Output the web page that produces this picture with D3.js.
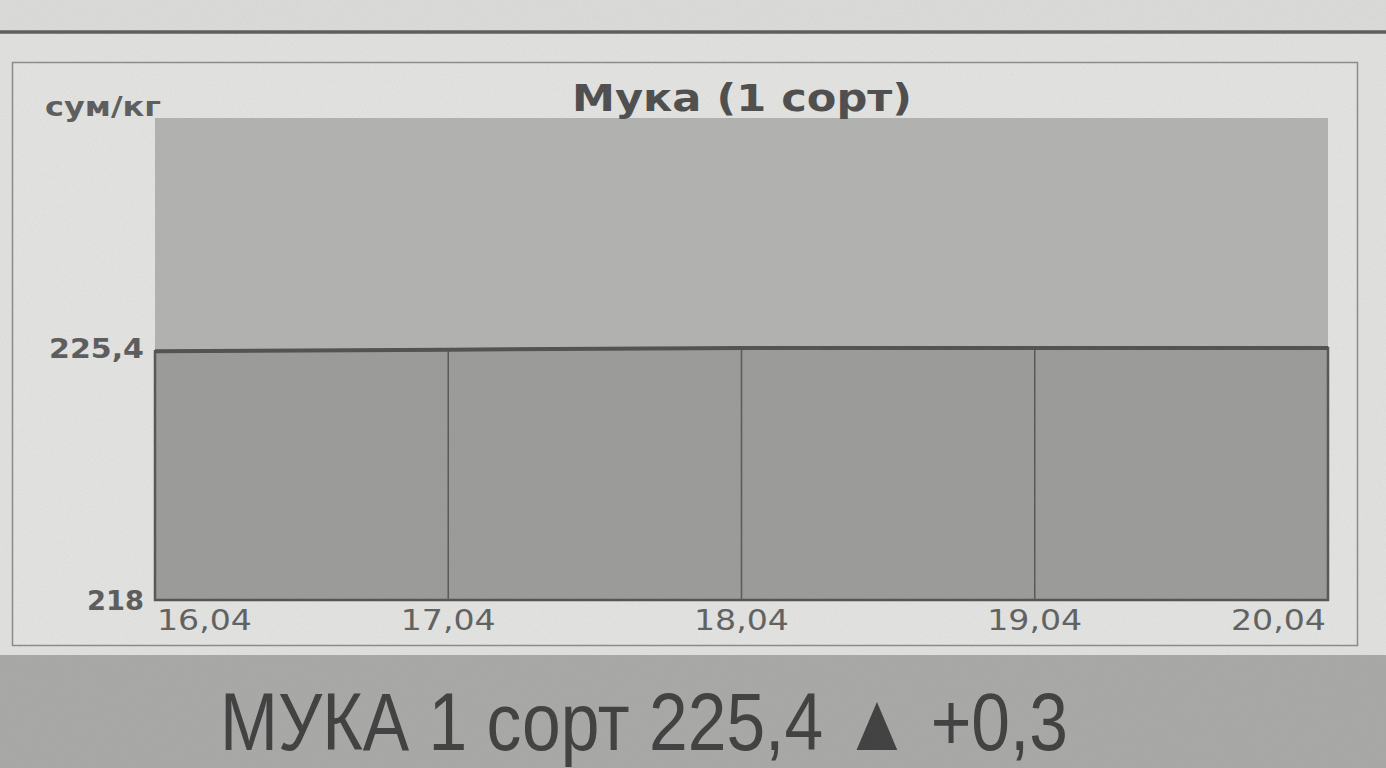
<!DOCTYPE html>
<meta charset="utf-8">
<script src="https://d3js.org/d3.v7.min.js"></script>
<style>
  body { margin: 0; background: #e3e3e1; }
  svg { display: block; }
</style>
<body>
<div id="chart"></div>
<script>
// data
var dates = ["16,04", "17,04", "18,04", "19,04", "20,04"];
var prices = [225.3, 225.35, 225.4, 225.4, 225.4];
var yDomain = [218, 232.15];
var yTicks = [218, 225.4];
var titleText = "Мука (1 сорт)";
var unitText = "сум/кг";
var bannerText = "МУКА 1 сорт 225,4 \u25B2 +0,3";

var W = 1386, H = 768;
var plot = {left: 155, right: 1328, top: 118, bottom: 600};
var wideFont = "DejaVu Sans, Verdana, sans-serif";

var svg = d3.select("#chart").append("svg")
    .attr("width", W)
    .attr("height", H);

// grainy newsprint filter
var defs = svg.append("defs");
var f = defs.append("filter").attr("id", "grain").attr("x", 0).attr("y", 0).attr("width", "100%").attr("height", "100%");
f.append("feTurbulence").attr("type", "fractalNoise").attr("baseFrequency", 0.9).attr("numOctaves", 2).attr("seed", 4);
f.append("feColorMatrix").attr("type", "matrix")
  .attr("values", "0 0 0 0 0.3  0 0 0 0 0.3  0 0 0 0 0.3  0 0 0 0.15 0");

// page background
svg.append("rect").attr("width", W).attr("height", H).attr("fill", "#e4e4e2");
svg.append("rect").attr("width", W).attr("height", 30).attr("fill", "#dededc");
svg.append("line")
    .attr("x1", 0).attr("x2", W).attr("y1", 32).attr("y2", 32)
    .attr("stroke", "#5a5a5a").attr("stroke-width", 3.5);

// chart frame
svg.append("rect")
    .attr("x", 12.5).attr("y", 62.5).attr("width", 1345).attr("height", 583)
    .attr("fill", "#e6e6e4").attr("stroke", "#8a8a8a").attr("stroke-width", 1.5);

var x = d3.scalePoint().domain(dates).range([plot.left, plot.right]);
var y = d3.scaleLinear().domain(yDomain).range([plot.bottom, plot.top]);

// plot background (upper part)
svg.append("rect")
    .attr("x", plot.left).attr("y", y(yDomain[1]))
    .attr("width", plot.right - plot.left).attr("height", y(yDomain[0]) - y(yDomain[1]))
    .attr("fill", "#b3b3b1");

var series = dates.map(function(d, i) { return {date: d, value: prices[i]}; });

// area
svg.append("path")
    .datum(series)
    .attr("fill", "#9b9b99")
    .attr("stroke", "#505050")
    .attr("stroke-width", 2.5)
    .attr("d", d3.area()
      .x(function(d) { return x(d.date); })
      .y0(y(yDomain[0]))
      .y1(function(d) { return y(d.value); }));

// drop lines at each date
svg.append("g").selectAll("line")
    .data(series)
    .enter().append("line")
      .attr("x1", function(d) { return x(d.date); })
      .attr("x2", function(d) { return x(d.date); })
      .attr("y1", function(d) { return y(d.value); })
      .attr("y2", y(yDomain[0]))
      .attr("stroke", "#555")
      .attr("stroke-width", 1.5);

// top line
svg.append("path")
    .datum(series)
    .attr("fill", "none")
    .attr("stroke", "#4e4e4e")
    .attr("stroke-width", 4)
    .attr("d", d3.line()
      .x(function(d) { return x(d.date); })
      .y(function(d) { return y(d.value); }));

// y tick labels
svg.append("g").selectAll("text")
    .data(yTicks)
    .enter().append("text")
      .attr("x", plot.left - 11)
      .attr("y", function(d) { return y(d) + 10; })
      .attr("text-anchor", "end")
      .attr("font-family", wideFont)
      .attr("font-weight", "bold")
      .attr("font-size", 27)
      .attr("textLength", function(d) { return String(d).length * 19; })
      .attr("lengthAdjust", "spacingAndGlyphs")
      .attr("fill", "#595959")
      .text(function(d) { return String(d).replace(".", ","); });

// x tick labels
svg.append("g").selectAll("text")
    .data(dates)
    .enter().append("text")
      .attr("x", function(d, i) { return i === 0 ? x(d) + 2 : i === dates.length - 1 ? x(d) - 2 : x(d); })
      .attr("y", plot.bottom + 30)
      .attr("text-anchor", function(d, i) { return i === 0 ? "start" : i === dates.length - 1 ? "end" : "middle"; })
      .attr("font-family", wideFont)
      .attr("font-size", 28)
      .attr("textLength", 95)
      .attr("lengthAdjust", "spacingAndGlyphs")
      .attr("fill", "#5e5e5e")
      .text(function(d) { return d; });

// unit label
svg.append("text")
    .attr("x", 45).attr("y", 116)
    .attr("font-family", wideFont)
    .attr("font-weight", "bold")
    .attr("font-size", 27)
    .attr("textLength", 116)
    .attr("lengthAdjust", "spacingAndGlyphs")
    .attr("fill", "#5a5a5a")
    .text(unitText);

// title
svg.append("text")
    .attr("x", 742).attr("y", 111)
    .attr("text-anchor", "middle")
    .attr("font-family", wideFont)
    .attr("font-weight", "bold")
    .attr("font-size", 37)
    .attr("textLength", 340)
    .attr("lengthAdjust", "spacingAndGlyphs")
    .attr("fill", "#4a4a4a")
    .text(titleText);

// bottom banner
svg.append("rect").attr("x", 0).attr("y", 655).attr("width", W).attr("height", H - 655).attr("fill", "#a9a9a7");
svg.append("text")
    .attr("x", 220).attr("y", 750)
    .attr("font-family", "Liberation Sans Narrow, Arial Narrow, Liberation Sans, sans-serif")
    .attr("font-size", 82)
    .attr("textLength", 848)
    .attr("lengthAdjust", "spacingAndGlyphs")
    .attr("fill", "#3c3c3c")
    .text(bannerText);

// grain overlay
svg.append("rect").attr("width", W).attr("height", H).attr("filter", "url(#grain)").attr("pointer-events", "none");
</script>
</body>
